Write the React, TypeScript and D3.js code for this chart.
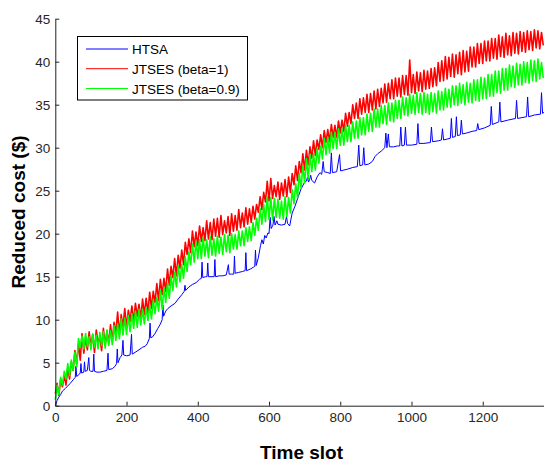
import { useEffect, useRef } from "react";
import * as d3 from "d3";

// time slots of the JTSES series (one value every 5 slots)
const slotStep = 5;

const jtsesBeta1 = [
  1.4, 2.6, 1.2, 3.1, 2.2, 3.5, 2.4, 4.4, 3.1, 5.1,
  4.1, 6.4, 4.9, 7.2, 5.3, 8.4, 6.1, 7.9, 6.5, 8.6,
  6.9, 8.3, 6.2, 8.8, 7.3, 8.0, 6.4, 9.0, 7.0, 8.7,
  7.2, 9.4, 7.5, 9.7, 8.4, 10.9, 8.3, 10.6, 9.2, 11.3,
  9.1, 11.1, 9.8, 11.6, 9.7, 11.9, 10.4, 11.8, 10.1, 12.4,
  10.6, 12.5, 10.8, 13.2, 11.3, 13.3, 12.0, 14.2, 12.2, 14.7,
  12.9, 14.8, 13.3, 15.9, 14.0, 16.2, 14.9, 17.1, 15.1, 17.5,
  16.0, 18.1, 16.4, 19.0, 17.6, 19.4, 17.8, 20.3, 18.5, 20.2,
  18.6, 20.9, 19.1, 20.7, 19.2, 21.5, 19.4, 21.3, 19.3, 21.7,
  19.7, 21.8, 19.6, 22.1, 19.9, 21.5, 20.1, 22.0, 19.8, 22.3,
  20.3, 22.1, 20.4, 22.8, 20.7, 22.4, 20.8, 23.0, 21.1, 22.9,
  21.3, 23.2, 21.7, 23.4, 22.5, 24.3, 22.8, 24.8, 23.7, 26.1,
  23.8, 26.4, 24.1, 25.6, 24.3, 26.0, 24.0, 25.9, 24.4, 26.3,
  24.3, 26.6, 24.8, 27.0, 25.7, 27.9, 26.2, 28.4, 27.1, 29.3,
  27.4, 29.7, 28.0, 30.1, 28.8, 30.8, 29.1, 30.9, 29.8, 31.5,
  30.0, 32.0, 30.6, 32.1, 30.7, 32.7, 31.2, 32.6, 31.2, 33.1,
  31.7, 33.2, 31.9, 34.0, 32.5, 34.1, 32.8, 35.0, 33.4, 35.2,
  33.4, 35.7, 33.9, 35.8, 34.1, 36.2, 34.1, 36.3, 34.4, 36.6,
  34.5, 36.8, 34.8, 36.9, 35.2, 37.4, 35.3, 37.5, 35.7, 37.9,
  35.7, 38.1, 36.0, 38.1, 35.9, 38.4, 36.2, 38.4, 36.1, 40.2,
  36.4, 38.5, 36.3, 38.8, 36.6, 38.7, 36.5, 39.0, 36.8, 38.9,
  36.9, 39.2, 37.1, 39.3, 37.2, 39.9, 37.7, 40.1, 37.8, 40.6,
  38.0, 40.5, 38.3, 40.9, 38.2, 40.8, 38.6, 41.1, 38.5, 41.3,
  38.8, 41.2, 38.9, 41.7, 39.4, 41.7, 39.4, 42.1, 39.8, 42.1,
  39.8, 42.4, 40.1, 42.4, 40.1, 42.7, 40.4, 42.7, 40.3, 43.1,
  40.6, 42.9, 40.5, 43.3, 40.8, 43.0, 40.7, 43.4, 41.0, 43.3,
  40.9, 43.5, 41.2, 43.4, 41.1, 43.6, 41.4, 43.5, 41.3, 43.7,
  41.6, 43.6, 41.5, 43.4, 41.9,
];

const jtsesBeta09 = [
  0.7, 2.4, 1.3, 3.3, 2.4, 4.0, 3.1, 4.9, 3.5, 5.3,
  4.1, 6.2, 4.5, 7.8, 6.8, 8.1, 6.6, 8.4, 6.9, 8.0,
  6.5, 8.3, 6.8, 8.2, 6.6, 8.5, 7.0, 8.6, 6.7, 8.8,
  7.0, 8.7, 7.1, 9.3, 7.6, 9.5, 7.8, 10.1, 8.2, 10.2,
  8.3, 10.5, 8.6, 10.7, 9.0, 11.0, 9.1, 11.2, 9.4, 11.2,
  9.5, 11.4, 9.9, 11.6, 10.1, 12.3, 10.7, 12.6, 11.0, 13.4,
  11.2, 13.7, 12.0, 14.2, 12.5, 15.1, 13.4, 15.5, 13.8, 16.3,
  14.4, 16.4, 14.8, 17.3, 15.6, 17.9, 16.4, 18.8, 16.7, 19.1,
  17.1, 19.3, 17.1, 19.6, 17.4, 19.3, 17.2, 19.7, 17.5, 19.4,
  17.4, 19.7, 17.7, 19.6, 17.6, 19.9, 17.9, 19.8, 17.8, 20.0,
  18.2, 19.9, 18.2, 20.3, 18.6, 20.3, 18.6, 20.7, 19.1, 20.8,
  19.2, 21.3, 19.8, 21.8, 20.4, 22.9, 21.1, 23.4, 21.4, 24.3,
  21.7, 24.2, 21.6, 24.1, 21.9, 24.0, 21.8, 23.8, 21.7, 24.3,
  22.0, 24.2, 22.4, 25.1, 23.5, 25.8, 24.2, 27.0, 25.3, 27.9,
  25.9, 28.7, 26.4, 29.2, 27.2, 29.3, 27.4, 29.9, 28.2, 30.2,
  28.7, 31.1, 29.2, 31.2, 29.4, 31.8, 29.9, 31.8, 29.9, 32.2,
  30.3, 32.2, 30.3, 32.6, 30.7, 32.6, 30.7, 33.0, 31.1, 33.1,
  31.1, 33.5, 31.5, 33.5, 31.5, 33.9, 31.9, 34.0, 31.9, 34.5,
  32.4, 34.5, 32.4, 34.9, 32.8, 34.9, 32.7, 35.2, 33.1, 35.2,
  33.0, 35.5, 33.4, 35.5, 33.4, 35.9, 33.8, 35.8, 33.7, 36.2,
  34.0, 36.1, 33.9, 36.4, 34.1, 36.3, 33.9, 36.4, 34.1, 36.2,
  33.9, 36.4, 34.2, 36.3, 34.0, 36.6, 34.4, 36.5, 34.4, 36.9,
  34.7, 36.8, 34.7, 37.2, 35.0, 37.2, 34.9, 37.5, 35.2, 37.3,
  35.0, 37.6, 35.3, 37.5, 35.2, 37.9, 35.5, 37.9, 35.4, 38.2,
  35.7, 38.1, 35.7, 38.5, 36.0, 38.5, 36.0, 38.9, 36.4, 38.9,
  36.3, 39.2, 36.7, 39.2, 36.7, 39.6, 37.1, 39.5, 37.0, 39.8,
  37.3, 39.7, 37.3, 40.0, 37.6, 39.9, 37.5, 40.2, 37.8, 40.1,
  37.7, 40.3, 38.0, 39.9, 38.1,
];

const htsaSlots = [
  0, 5, 10, 15, 20, 28, 35, 42, 50, 56, 58, 60, 66, 70, 72, 74, 80, 82, 84, 90,
  94, 96, 100, 106, 108, 110, 117, 125, 135, 145, 148, 150, 160, 168, 172, 174, 176, 182, 187, 190,
  192, 200, 210, 214, 216, 224, 235, 245, 252, 258, 264, 266, 268, 273, 280, 288, 295, 300, 302, 304,
  310, 316, 325, 336, 345, 355, 362, 364, 366, 375, 385, 395, 405, 410, 412, 414, 422, 426, 428, 430,
  440, 446, 448, 450, 460, 470, 480, 486, 488, 495, 501, 503, 505, 515, 525, 533, 535, 537, 548, 556,
  560, 562, 564, 570, 576, 580, 584, 588, 592, 597, 600, 603, 606, 611, 614, 617, 622, 625, 635, 645,
  649, 652, 658, 665, 673, 682, 690, 700, 705, 708, 711, 714, 717, 720, 728, 735, 743, 748, 752, 755,
  765, 772, 775, 778, 790, 798, 801, 810, 820, 835, 848, 852, 855, 863, 866, 869, 880, 890, 898, 905,
  915, 925, 928, 931, 935, 938, 950, 960, 967, 970, 973, 980, 983, 986, 1000, 1015, 1018, 1021, 1035, 1053,
  1056, 1059, 1075, 1084, 1087, 1090, 1100, 1109, 1112, 1115, 1123, 1126, 1129, 1137, 1140, 1143, 1154, 1170, 1183, 1186,
  1189, 1205, 1221, 1224, 1227, 1245, 1248, 1251, 1270, 1292, 1295, 1298, 1310, 1323, 1326, 1329, 1345, 1362, 1365, 1368,
  1372,
];

const htsaCost = [
  0, 0.6, 1.0, 1.3, 1.7, 2.0, 2.3, 2.6, 3.0, 3.3, 4.6, 3.4, 3.6, 3.8, 4.9, 3.8, 3.9, 5.1, 4.0, 4.1,
  5.6, 4.1, 4.0, 4.0, 6.0, 4.0, 3.9, 3.9, 4.0, 4.1, 6.1, 4.2, 4.3, 4.6, 4.9, 6.6, 5.0, 5.6, 5.9, 7.6,
  5.9, 5.8, 5.9, 8.3, 6.0, 6.2, 6.5, 6.8, 6.9, 7.2, 7.8, 9.6, 7.9, 8.0, 8.4, 9.0, 9.5, 10.0, 11.7, 10.4,
  11.0, 11.3, 11.6, 11.9, 12.4, 12.9, 13.3, 14.0, 13.4, 13.8, 14.1, 14.3, 14.7, 14.8, 16.7, 14.9, 15.0, 15.0, 16.6, 15.0,
  15.0, 15.0, 17.0, 15.0, 15.1, 15.1, 15.2, 16.4, 15.3, 15.3, 15.3, 17.4, 15.4, 15.5, 15.6, 15.7, 17.8, 15.7, 15.9, 16.1,
  16.2, 18.1, 16.3, 17.2, 18.6, 19.3, 18.8, 19.8, 19.5, 20.1, 20.0, 21.9, 20.6, 21.0, 22.0, 21.0, 21.5, 21.1, 21.0, 21.1,
  22.0, 21.2, 20.9, 22.4, 23.2, 24.3, 25.2, 26.0, 26.1, 26.6, 26.0, 26.3, 26.8, 26.2, 25.9, 26.6, 27.1, 26.9, 28.4, 27.2,
  27.1, 27.0, 29.4, 27.1, 27.2, 29.2, 27.3, 27.4, 27.5, 27.7, 27.8, 30.3, 27.9, 28.0, 30.0, 28.0, 28.1, 28.4, 29.0, 29.3,
  29.6, 30.0, 31.7, 30.0, 31.6, 30.1, 30.1, 30.2, 30.2, 32.4, 30.2, 30.3, 32.4, 30.3, 30.3, 30.4, 32.8, 30.5, 30.5, 30.6,
  32.4, 30.7, 30.8, 30.9, 32.2, 30.9, 31.0, 31.1, 33.4, 31.2, 31.3, 33.6, 31.4, 31.5, 33.2, 31.6, 31.7, 31.9, 32.0, 32.8,
  32.1, 32.3, 32.6, 34.8, 32.7, 33.0, 35.3, 33.0, 33.2, 33.4, 35.5, 33.4, 33.5, 33.6, 35.9, 33.6, 33.8, 33.9, 36.4, 34.0,
  34.1,
];

const xTicks = [0, 200, 400, 600, 800, 1000, 1200];
const yTicks = [0, 5, 10, 15, 20, 25, 30, 35, 40, 45];
const seriesNames = ["HTSA", "JTSES (beta=1)", "JTSES (beta=0.9)"];
const seriesColors = ["#0000ff", "#ff0000", "#00ff00"];

const font = "'Liberation Sans', Arial, Helvetica, sans-serif";

const App = () => {
  const svgRef = useRef<SVGSVGElement | null>(null);

  useEffect(() => {
    const svg = d3.select(svgRef.current);
    svg.selectAll("*").remove();

    const x = d3.scaleLinear().domain([0, 1372]).range([55.3, 544]);
    const y = d3.scaleLinear().domain([0, 45]).range([405.7, 18.7]);

    const line = d3
      .line<[number, number]>()
      .x((d) => x(d[0]))
      .y((d) => y(d[1]));

    const htsa: [number, number][] = htsaSlots.map((s, i) => [s, htsaCost[i]]);
    const beta1: [number, number][] = jtsesBeta1.map((v, i) => [i * slotStep, v]);
    const beta09: [number, number][] = jtsesBeta09.map((v, i) => [i * slotStep, v]);

    // noisy JTSES curves get a thicker pen so the band reads solid like the original
    const widths = [1, 1.6, 1.6];
    [htsa, beta1, beta09].forEach((pts, i) => {
      svg
        .append("path")
        .datum(pts)
        .attr("fill", "none")
        .attr("stroke", seriesColors[i])
        .attr("stroke-width", widths[i])
        .attr("stroke-linejoin", "round")
        .attr("d", line);
    });

    // axes (inward ticks, no box)
    const yAxis = svg
      .append("g")
      .attr("transform", `translate(${x(0)},0)`)
      .call(
        d3.axisLeft(y).tickValues(yTicks).tickFormat(d3.format("d"))
          .tickSizeInner(-4).tickSizeOuter(0).tickPadding(5)
      );
    const xAxis = svg
      .append("g")
      .attr("transform", `translate(0,${y(0)})`)
      .call(
        d3.axisBottom(x).tickValues(xTicks).tickFormat(d3.format("d"))
          .tickSizeInner(-4).tickSizeOuter(0).tickPadding(7)
      );

    [yAxis, xAxis].forEach((g) => {
      g.attr("font-family", font).attr("font-size", 13.5).attr("color", "#222");
      g.selectAll("text").attr("fill", "#262626");
    });

    // axis titles
    svg
      .append("text")
      .attr("transform", "translate(25,212) rotate(-90)")
      .attr("text-anchor", "middle")
      .attr("font-family", font)
      .attr("font-weight", "bold")
      .attr("font-size", 19)
      .attr("fill", "#000")
      .text("Reduced cost ($)");

    svg
      .append("text")
      .attr("x", 301.5)
      .attr("y", 459)
      .attr("text-anchor", "middle")
      .attr("font-family", font)
      .attr("font-weight", "bold")
      .attr("font-size", 19)
      .attr("fill", "#000")
      .text("Time slot");

    // legend
    const legend = svg.append("g");
    legend
      .append("rect")
      .attr("x", 77.5)
      .attr("y", 36.5)
      .attr("width", 170)
      .attr("height", 63.5)
      .attr("fill", "#fff")
      .attr("stroke", "#000")
      .attr("stroke-width", 1);

    const rowY = [49, 68.7, 88.5];
    seriesNames.forEach((name, i) => {
      legend
        .append("line")
        .attr("x1", 86)
        .attr("x2", 128)
        .attr("y1", rowY[i])
        .attr("y2", rowY[i])
        .attr("stroke", seriesColors[i])
        .attr("stroke-width", 1);
      legend
        .append("text")
        .attr("x", 132)
        .attr("y", rowY[i] + 5)
        .attr("font-family", font)
        .attr("font-size", 13.5)
        .attr("fill", "#000")
        .text(name);
    });

    return () => {
      svg.selectAll("*").remove();
    };
  }, []);

  return (
    <svg
      ref={svgRef}
      width={544}
      height={464}
      style={{ position: "absolute", left: 0, top: 0, background: "#fff" }}
    ></svg>
  );
};

export default App;
